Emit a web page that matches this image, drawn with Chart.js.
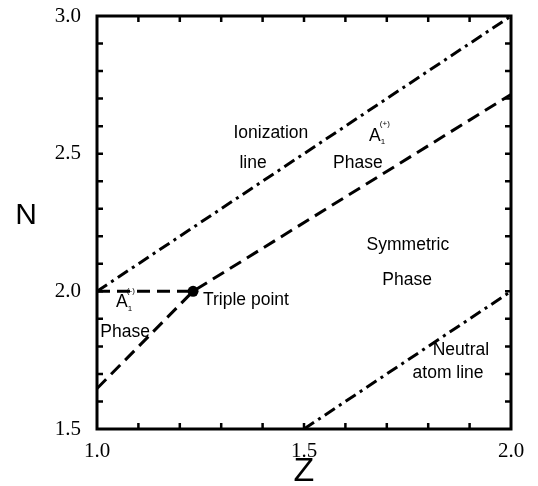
<!DOCTYPE html>
<html>
<head>
<meta charset="utf-8">
<script src="https://cdn.jsdelivr.net/npm/chart.js@4.4.1/dist/chart.umd.min.js"></script>
<style>
  html, body { margin: 0; padding: 0; background: #fff; }
  #wrap { width: 538px; height: 486px; }
</style>
</head>
<body>
<div id="wrap"><canvas id="phase" width="538" height="486"></canvas></div>
<script>
// phase boundaries (Z on x, N on y)
const ionizationZ = [1.0, 2.0];
const ionizationN = [2.0, 3.0];
const neutralZ = [1.5, 2.0];
const neutralN = [1.5, 2.0];
const boundaryZ = [1.0, 1.232, 2.0];
const boundaryN = [1.647, 2.0, 2.715];
const flatZ = [1.0, 1.232];
const flatN = [2.0, 2.0];
const tripleZ = [1.232];
const tripleN = [2.0];

const xTicks = [1.0, 1.5, 2.0];
const yTicks = [1.5, 2.0, 2.5, 3.0];

// region labels, in data coordinates
const notes = [
  { text: 'Ionization', z: 1.420, n: 2.575 },
  { text: 'line', z: 1.377, n: 2.465 },
  { text: 'Phase', z: 1.630, n: 2.465 },
  { text: 'Symmetric', z: 1.751, n: 2.167 },
  { text: 'Phase', z: 1.749, n: 2.040 },
  { text: 'Neutral', z: 1.879, n: 1.785 },
  { text: 'atom line', z: 1.848, n: 1.702 },
  { text: 'Triple point', z: 1.256, n: 1.967, align: 'left' },
  { text: 'Phase', z: 1.068, n: 1.851 }
];
const phaseSymbols = [
  { sup: '(+)', z: 1.671, n: 2.564 },
  { sup: '(-)', z: 1.060, n: 1.960 }
];

const toPts = (xs, ys) => xs.map((x, i) => ({ x: x, y: ys[i] }));

const SANS = '"Liberation Sans", Arial, Helvetica, sans-serif';
const SERIF = '"Liberation Serif", "Times New Roman", serif';

const framePlugin = {
  id: 'frame',
  afterDraw(chart) {
    const ctx = chart.ctx;
    const a = chart.chartArea;
    const xs = chart.scales.x, ys = chart.scales.y;
    ctx.save();
    ctx.strokeStyle = '#000';
    ctx.lineWidth = 3;
    ctx.strokeRect(a.left, a.top, a.right - a.left, a.bottom - a.top);

    // inward minor ticks every 0.1
    ctx.lineWidth = 2.5;
    const tl = 6;
    ctx.beginPath();
    for (let i = 1; i < 10; i++) {
      const px = xs.getPixelForValue(1 + i * 0.1);
      ctx.moveTo(px, a.bottom); ctx.lineTo(px, a.bottom - tl);
      ctx.moveTo(px, a.top); ctx.lineTo(px, a.top + tl);
    }
    for (let i = 1; i < 15; i++) {
      const py = ys.getPixelForValue(1.5 + i * 0.1);
      ctx.moveTo(a.left, py); ctx.lineTo(a.left + tl, py);
      ctx.moveTo(a.right, py); ctx.lineTo(a.right - tl, py);
    }
    ctx.stroke();

    // region labels
    ctx.fillStyle = '#000';
    ctx.font = '17.5px ' + SANS;
    ctx.textBaseline = 'middle';
    notes.forEach(nt => {
      ctx.textAlign = nt.align || 'center';
      ctx.fillText(nt.text, xs.getPixelForValue(nt.z), ys.getPixelForValue(nt.n));
    });
    phaseSymbols.forEach(p => {
      const px = xs.getPixelForValue(p.z), py = ys.getPixelForValue(p.n);
      ctx.textAlign = 'center';
      ctx.font = '17.5px ' + SANS;
      ctx.fillText('A', px, py);
      ctx.textAlign = 'left';
      ctx.font = '8px ' + SANS;
      ctx.fillText('1', px + 6, py + 6);
      ctx.fillText(p.sup, px + 5, py - 12);
    });

    // axis titles
    ctx.font = '30px ' + SANS;
    ctx.textAlign = 'center';
    ctx.fillText('N', 26, 216);
    ctx.font = '34px ' + SANS;
    ctx.fillText('Z', 304, 472);
    ctx.restore();
  }
};

const lineStyle = { showLine: true, pointRadius: 0, borderColor: '#000', borderWidth: 3, fill: false };

new Chart(document.getElementById('phase'), {
  type: 'scatter',
  data: {
    datasets: [
      Object.assign({ label: 'Ionization line', data: toPts(ionizationZ, ionizationN), borderDash: [12, 5, 3, 5] }, lineStyle),
      Object.assign({ label: 'Neutral atom line', data: toPts(neutralZ, neutralN), borderDash: [12, 5, 3, 5] }, lineStyle),
      Object.assign({ label: 'Boundary', data: toPts(boundaryZ, boundaryN), borderDash: [13, 7] }, lineStyle),
      Object.assign({ label: 'A1(-) boundary', data: toPts(flatZ, flatN), borderDash: [13, 7] }, lineStyle),
      { label: 'Triple point', data: toPts(tripleZ, tripleN), showLine: false, pointRadius: 5.5,
        pointBackgroundColor: '#000', pointBorderColor: '#000', pointBorderWidth: 0 }
    ]
  },
  options: {
    responsive: false,
    animation: false,
    layout: { padding: { top: 16, right: 27, left: 0, bottom: 0 } },
    plugins: { legend: { display: false }, tooltip: { enabled: false } },
    scales: {
      x: {
        type: 'linear', min: 1.0, max: 2.0,
        afterBuildTicks: s => { s.ticks = xTicks.map(v => ({ value: v })); },
        afterFit: s => { s.height = 57; s.paddingLeft = 0; s.paddingRight = 0; },
        ticks: { callback: v => v.toFixed(1), color: '#000', padding: 10, maxRotation: 0,
          font: { family: SERIF, size: 21 } },
        grid: { display: false, drawTicks: false },
        border: { display: false }
      },
      y: {
        type: 'linear', min: 1.5, max: 3.0,
        afterBuildTicks: s => { s.ticks = yTicks.map(v => ({ value: v })); },
        afterFit: s => { s.width = 97; s.paddingTop = 0; s.paddingBottom = 0; },
        ticks: { callback: v => v.toFixed(1), color: '#000', padding: 16,
          font: { family: SERIF, size: 21 } },
        grid: { display: false, drawTicks: false },
        border: { display: false }
      }
    }
  },
  plugins: [framePlugin]
});
</script>
</body>
</html>
